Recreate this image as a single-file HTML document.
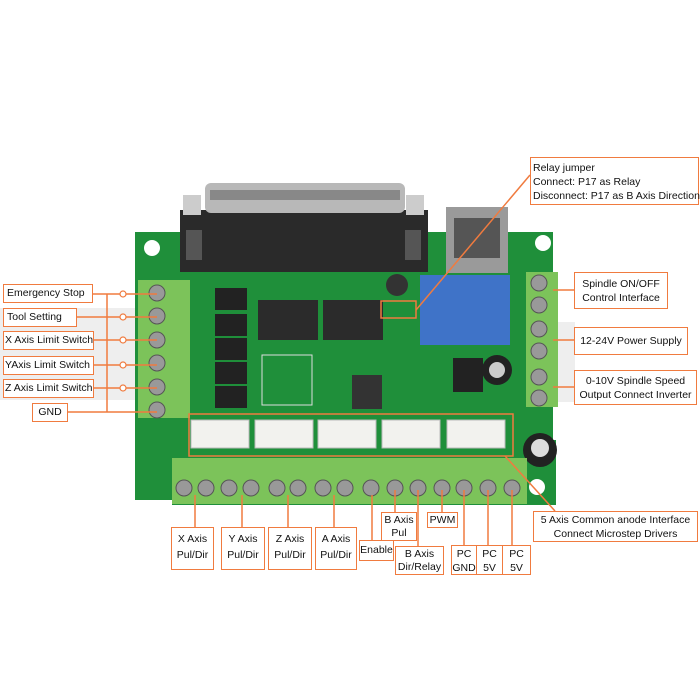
<!DOCTYPE html>
<html><head><meta charset="utf-8"><style>
body{margin:0;background:#fff;}
#w{position:relative;width:700px;height:700px;overflow:hidden;font-family:"Liberation Sans",sans-serif;}
.b{position:absolute;border:1.5px solid #f07b3f;background:#fff;color:#111;font-size:10.5px;line-height:13px;box-sizing:border-box;white-space:nowrap;}
.c{text-align:center;}
</style></head><body><div id="w">
<svg width="700" height="700" style="position:absolute;left:0;top:0">
<rect x="0" y="308" width="140" height="92" fill="#eeeeee"/>
<rect x="555" y="322" width="20" height="80" fill="#eeeeee"/>
<!-- board -->
<path d="M135 232 H553 V440 H556 V505 H172 V500 H135 Z" fill="#1f8f3a"/>
<circle cx="152" cy="248" r="8" fill="#fff"/>
<circle cx="543" cy="243" r="8" fill="#fff"/>
<circle cx="537" cy="487" r="8" fill="#fff"/>
<!-- DB25 -->
<rect x="180" y="210" width="248" height="62" fill="#2a2a2a"/>
<rect x="205" y="183" width="200" height="30" rx="6" fill="#b8b8b8"/>
<rect x="210" y="190" width="190" height="10" fill="#888"/>
<rect x="183" y="195" width="18" height="20" fill="#ccc"/><rect x="406" y="195" width="18" height="20" fill="#ccc"/>
<rect x="186" y="230" width="16" height="30" fill="#555"/><rect x="405" y="230" width="16" height="30" fill="#555"/>
<!-- USB -->
<rect x="446" y="207" width="62" height="66" fill="#9a9a9a"/>
<rect x="454" y="218" width="46" height="40" fill="#555"/>
<!-- relay -->
<rect x="420" y="275" width="90" height="70" fill="#3f73c8"/>
<!-- chips -->
<rect x="258" y="300" width="60" height="40" fill="#2b2b2b"/>
<rect x="323" y="300" width="60" height="40" fill="#2b2b2b"/>
<rect x="215" y="288" width="32" height="22" fill="#222"/>
<rect x="215" y="314" width="32" height="22" fill="#222"/>
<rect x="215" y="338" width="32" height="22" fill="#222"/>
<rect x="215" y="362" width="32" height="22" fill="#222"/>
<rect x="215" y="386" width="32" height="22" fill="#222"/>
<rect x="352" y="375" width="30" height="34" fill="#333"/>
<rect x="453" y="358" width="30" height="34" fill="#222"/>
<circle cx="397" cy="285" r="11" fill="#333"/>
<circle cx="497" cy="370" r="15" fill="#222"/><circle cx="497" cy="370" r="8" fill="#ccc"/>
<circle cx="540" cy="450" r="17" fill="#222"/><circle cx="540" cy="448" r="9" fill="#ddd"/>
<rect x="262" y="355" width="50" height="50" fill="none" stroke="#ddd" stroke-width="1"/>
<!-- left terminal -->
<rect x="138" y="280" width="52" height="138" fill="#7cc35a"/>
<g fill="#999" stroke="#555"><circle cx="157" cy="293" r="8"/><circle cx="157" cy="316" r="8"/><circle cx="157" cy="340" r="8"/><circle cx="157" cy="363" r="8"/><circle cx="157" cy="387" r="8"/><circle cx="157" cy="410" r="8"/></g>
<!-- right terminal -->
<rect x="526" y="272" width="32" height="135" fill="#7cc35a"/>
<g fill="#999" stroke="#555"><circle cx="539" cy="283" r="8"/><circle cx="539" cy="305" r="8"/><circle cx="539" cy="329" r="8"/><circle cx="539" cy="351" r="8"/><circle cx="539" cy="377" r="8"/><circle cx="539" cy="398" r="8"/></g>
<!-- bottom terminal -->
<rect x="172" y="458" width="355" height="46" fill="#7cc35a"/>
<g fill="#999" stroke="#555"><circle cx="184" cy="488" r="8"/><circle cx="206" cy="488" r="8"/><circle cx="229" cy="488" r="8"/><circle cx="251" cy="488" r="8"/><circle cx="277" cy="488" r="8"/><circle cx="298" cy="488" r="8"/><circle cx="323" cy="488" r="8"/><circle cx="345" cy="488" r="8"/><circle cx="371" cy="488" r="8"/><circle cx="395" cy="488" r="8"/><circle cx="418" cy="488" r="8"/><circle cx="442" cy="488" r="8"/><circle cx="464" cy="488" r="8"/><circle cx="488" cy="488" r="8"/><circle cx="512" cy="488" r="8"/></g>
<!-- JST -->
<g fill="#f2f2ee" stroke="#bbb"><rect x="191" y="420" width="58" height="28"/><rect x="255" y="420" width="58" height="28"/><rect x="318" y="420" width="58" height="28"/><rect x="382" y="420" width="58" height="28"/><rect x="447" y="420" width="58" height="28"/></g>
<!-- orange lines -->
<g stroke="#f07b3f" stroke-width="1.5" fill="none">
<rect x="189" y="414" width="324" height="42"/>
<rect x="381" y="301" width="35" height="17"/>
<line x1="92" y1="294" x2="107" y2="294"/><line x1="76" y1="317" x2="157" y2="317"/><line x1="93" y1="340" x2="157" y2="340"/><line x1="93" y1="365" x2="120" y2="365"/><line x1="93" y1="388" x2="120" y2="388"/><line x1="67" y1="412" x2="157" y2="412"/>
<line x1="107" y1="294" x2="107" y2="412"/>
<line x1="107" y1="294" x2="157" y2="294"/>
<line x1="123" y1="365" x2="157" y2="365"/><line x1="123" y1="388" x2="157" y2="388"/>
<line x1="416" y1="310" x2="530" y2="175"/>
<line x1="553" y1="290" x2="574" y2="290"/><line x1="553" y1="340" x2="574" y2="340"/><line x1="553" y1="387" x2="574" y2="387"/>
<line x1="505" y1="456" x2="555" y2="511"/>
<line x1="195" y1="495" x2="195" y2="527"/><line x1="242" y1="495" x2="242" y2="527"/><line x1="288" y1="495" x2="288" y2="527"/><line x1="334" y1="495" x2="334" y2="527"/>
<line x1="372" y1="495" x2="372" y2="540"/><line x1="395" y1="490" x2="395" y2="512"/><line x1="418" y1="490" x2="418" y2="546"/><line x1="442" y1="490" x2="442" y2="512"/>
<line x1="464" y1="490" x2="464" y2="545"/><line x1="488" y1="490" x2="488" y2="545"/><line x1="512" y1="490" x2="512" y2="545"/>
</g>
<g stroke="#f07b3f" stroke-width="1.2" fill="#fff"><circle cx="123" cy="294" r="3"/><circle cx="123" cy="317" r="3"/><circle cx="123" cy="340" r="3"/><circle cx="123" cy="365" r="3"/><circle cx="123" cy="388" r="3"/></g>
</svg>
<div class="b" style="left:3px;top:284px;width:90px;height:19px;padding:2px 3px">Emergency Stop</div>
<div class="b" style="left:3px;top:308px;width:74px;height:19px;padding:2px 3px">Tool Setting</div>
<div class="b" style="left:3px;top:331px;width:91px;height:19px;padding:2px 1px">X Axis Limit Switch</div>
<div class="b" style="left:3px;top:356px;width:91px;height:19px;padding:2px 1px">YAxis Limit Switch</div>
<div class="b" style="left:3px;top:379px;width:91px;height:19px;padding:2px 1px">Z Axis Limit Switch</div>
<div class="b c" style="left:32px;top:403px;width:36px;height:19px;padding-top:2px">GND</div>
<div class="b" style="left:530px;top:157px;width:169px;height:48px;padding:3px 2px;line-height:14px">Relay jumper<br>Connect: P17 as Relay<br>Disconnect: P17 as B Axis Direction</div>
<div class="b c" style="left:574px;top:272px;width:94px;height:37px;padding-top:4px;line-height:14px">Spindle ON/OFF<br>Control Interface</div>
<div class="b c" style="left:574px;top:327px;width:114px;height:28px;padding-top:7px">12-24V Power Supply</div>
<div class="b c" style="left:574px;top:370px;width:123px;height:35px;padding-top:3px;line-height:14px">0-10V Spindle Speed<br>Output Connect Inverter</div>
<div class="b c" style="left:533px;top:511px;width:165px;height:31px;padding-top:1px;line-height:14px">5 Axis Common anode Interface<br>Connect Microstep Drivers</div>
<div class="b c" style="left:171px;top:527px;width:43px;height:43px;padding-top:3px;line-height:16px">X Axis<br>Pul/Dir</div>
<div class="b c" style="left:221px;top:527px;width:44px;height:43px;padding-top:3px;line-height:16px">Y Axis<br>Pul/Dir</div>
<div class="b c" style="left:268px;top:527px;width:44px;height:43px;padding-top:3px;line-height:16px">Z Axis<br>Pul/Dir</div>
<div class="b c" style="left:315px;top:527px;width:42px;height:43px;padding-top:3px;line-height:16px">A Axis<br>Pul/Dir</div>
<div class="b c" style="left:359px;top:540px;width:35px;height:21px;padding-top:3px">Enable</div>
<div class="b c" style="left:381px;top:512px;width:36px;height:29px;padding-top:1px">B Axis<br>Pul</div>
<div class="b c" style="left:395px;top:546px;width:49px;height:29px;padding-top:1px">B Axis<br>Dir/Relay</div>
<div class="b c" style="left:427px;top:512px;width:31px;height:16px;padding-top:1px">PWM</div>
<div class="b c" style="left:451px;top:545px;width:26px;height:30px;padding-top:1px;line-height:14px">PC<br>GND</div>
<div class="b c" style="left:476px;top:545px;width:27px;height:30px;padding-top:1px;line-height:14px">PC<br>5V</div>
<div class="b c" style="left:502px;top:545px;width:29px;height:30px;padding-top:1px;line-height:14px">PC<br>5V</div>
</div></body></html>
